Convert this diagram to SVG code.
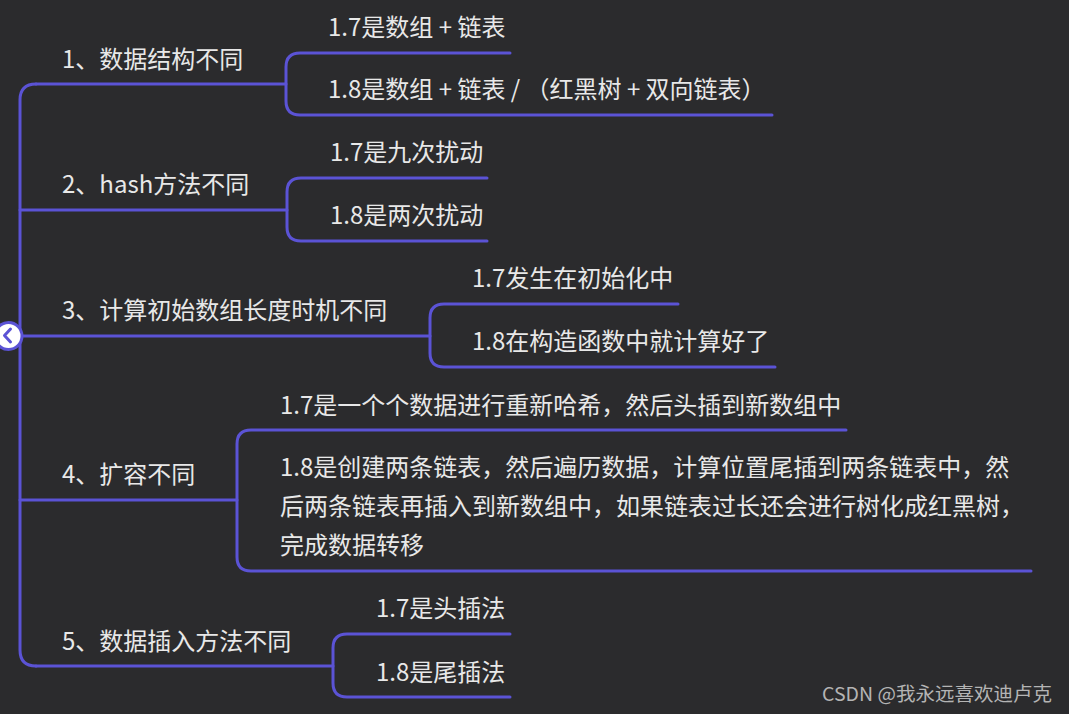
<svg xmlns="http://www.w3.org/2000/svg" width="1069" height="714" viewBox="0 0 1069 714">
<style>
.bg{fill:#2b2b2d}
.ln{fill:none;stroke:#5b53d5;stroke-width:3;stroke-linecap:round;stroke-linejoin:round}
.t{font-family:"Noto Sans CJK SC","Noto Sans",sans-serif;font-size:24px;fill:#e8e8e8}
.wm{font-family:"Noto Sans CJK SC","Noto Sans",sans-serif;font-size:19px;fill:#b4b4b4}
</style>
<rect class="bg" x="0" y="0" width="1069" height="714"/>
<g id="connectors">
<path class="ln" d="M36 84 Q20 84 20 100 L20 650 Q20 666 36 666"/>
<path class="ln" d="M36 84 H286"/>
<path class="ln" d="M20 210 H287"/>
<path class="ln" d="M20 336 H430"/>
<path class="ln" d="M20 500 H237"/>
<path class="ln" d="M36 666 H333"/>
<path class="ln" d="M510 53 H300 Q286 53 286 67 V101 Q286 115 300 115 H772"/>
<path class="ln" d="M487 178 H301 Q287 178 287 192 V227 Q287 241 301 241 H487"/>
<path class="ln" d="M678 304 H444 Q430 304 430 318 V353 Q430 367 444 367 H775"/>
<path class="ln" d="M846 430 H251 Q237 430 237 444 V557 Q237 571 251 571 H1031"/>
<path class="ln" d="M510 634 H347 Q333 634 333 648 V683 Q333 697 347 697 H510"/>
</g>
<g id="root">
<circle cx="8.5" cy="336" r="13.5" fill="#ffffff" stroke="#5b53d5" stroke-width="3"/>
<path d="M10.5 329 L4.5 335.5 L10.5 342" fill="none" stroke="#5b53d5" stroke-width="3" stroke-linecap="round" stroke-linejoin="round"/>
</g>
<g id="n1"><text class="t" x="62" y="68">1、数据结构不同</text></g>
<g id="n1a"><text class="t" x="328" y="36" xml:space="preserve">1.7是数组 + 链表</text></g>
<g id="n1b"><text class="t" x="328" y="98" xml:space="preserve">1.8是数组 + 链表 / （红黑树 + 双向链表）</text></g>
<g id="n2"><text class="t" x="62" y="193">2、hash方法不同</text></g>
<g id="n2a"><text class="t" x="330" y="161">1.7是九次扰动</text></g>
<g id="n2b"><text class="t" x="330" y="224">1.8是两次扰动</text></g>
<g id="n3"><text class="t" x="62" y="319">3、计算初始数组长度时机不同</text></g>
<g id="n3a"><text class="t" x="472" y="287">1.7发生在初始化中</text></g>
<g id="n3b"><text class="t" x="472" y="350">1.8在构造函数中就计算好了</text></g>
<g id="n4"><text class="t" x="62" y="483">4、扩容不同</text></g>
<g id="n4a"><text class="t" x="280" y="414">1.7是一个个数据进行重新哈希，然后头插到新数组中</text></g>
<g id="n4b"><text class="t" x="280" y="476">1.8是创建两条链表，然后遍历数据，计算位置尾插到两条链表中，然</text><text class="t" x="280" y="515">后两条链表再插入到新数组中，如果链表过长还会进行树化成红黑树，</text><text class="t" x="280" y="554">完成数据转移</text></g>
<g id="n5"><text class="t" x="62" y="650">5、数据插入方法不同</text></g>
<g id="n5a"><text class="t" x="376" y="617">1.7是头插法</text></g>
<g id="n5b"><text class="t" x="376" y="681">1.8是尾插法</text></g>
<text class="wm" x="822" y="701" textLength="230" lengthAdjust="spacingAndGlyphs">CSDN @我永远喜欢迪卢克</text>
</svg>
